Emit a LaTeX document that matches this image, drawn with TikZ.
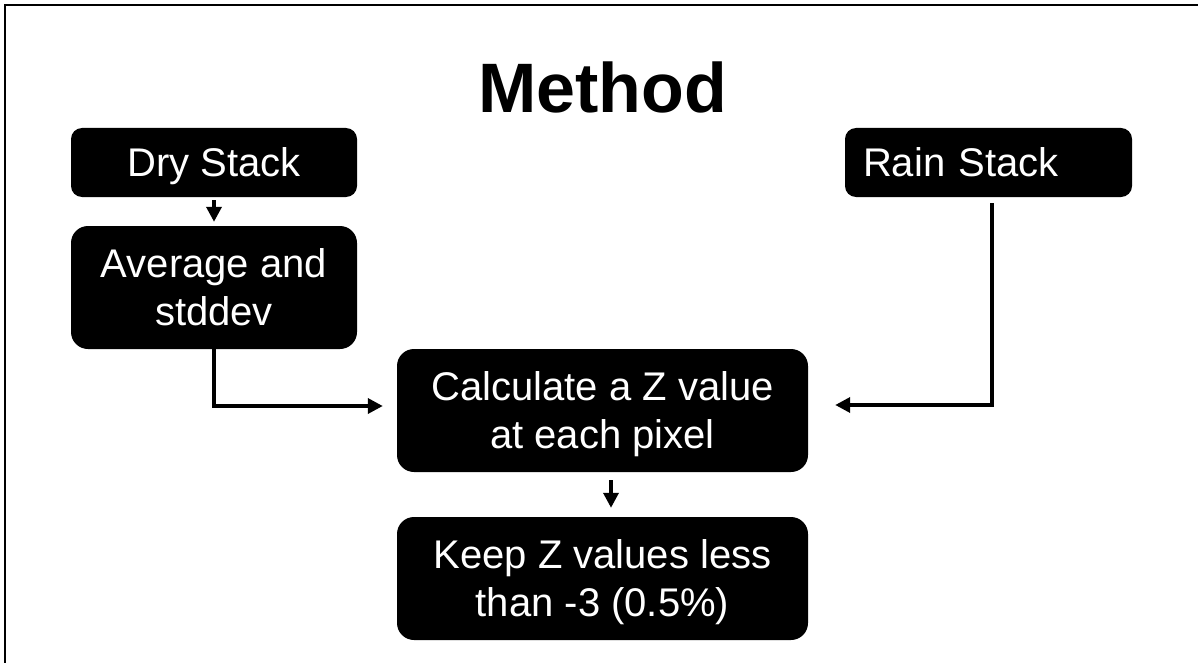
\documentclass[tikz,border=0pt]{standalone}
\usepackage{fontspec}
\setmainfont{Liberation Sans}
\usetikzlibrary{arrows.meta}

\begin{document}
\begin{tikzpicture}[x=1pt,y=-1pt,
  stepbox/.style={fill=black, text=white, inner sep=0pt, align=center,
    font=\fontsize{40}{48}\selectfont, text depth=0pt},
  onerow/.style={stepbox, rounded corners=11pt, minimum height=69pt, text height=28.6pt},
  tworow/.style={stepbox, rounded corners=17pt, minimum height=123pt, text height=76.6pt},
  flow/.style={line width=3.5pt, -{Triangle[length=15pt,width=15pt]}}]

  % page and its frame
  \useasboundingbox (0,0) rectangle (1198,663);
  \fill[white] (0,0) rectangle (1198,663);
  \draw[line width=2.2pt] (5,663) -- (5,5) -- (1198,5);

  % title
  \node[anchor=base, font=\fontsize{70}{84}\selectfont\bfseries] (title) at (602.5,113) {Method};

  % process steps
  \node[onerow, minimum width=286pt] (dry) at (214,162.5) {Dry Stack};
  \node[tworow, minimum width=286pt] (avg) at (214,287.5) {Average and\\stddev};
  \node[onerow, text width=251pt, inner xsep=18pt, align=left] (rain) at (988.5,162.5) {Rain Stack};
  \node[tworow, minimum width=411pt] (calc) at (602.5,410.5) {Calculate a Z value\\at each pixel};
  \node[tworow, minimum width=411pt] (keep) at (602.5,578.5) {Keep Z values less\\than -3 (0.5\%)};

  % connectors
  \coordinate (lbend) at (214,406);
  \coordinate (rbend) at (992,405);
  \draw[flow] ([yshift=-3pt]dry.south) -- ([yshift=4pt]avg.north);
  \draw[flow] (avg.south) -- (lbend) -- ([xshift=-14pt]calc.west |- lbend);
  \draw[flow] ([yshift=-6pt]rain.south -| rbend) -- (rbend) -- ([xshift=27pt]calc.east |- rbend);
  \draw[flow] ([xshift=8.5pt,yshift=-8pt]calc.south) -- ([xshift=8.5pt,yshift=9pt]keep.north);
\end{tikzpicture}
\end{document}
